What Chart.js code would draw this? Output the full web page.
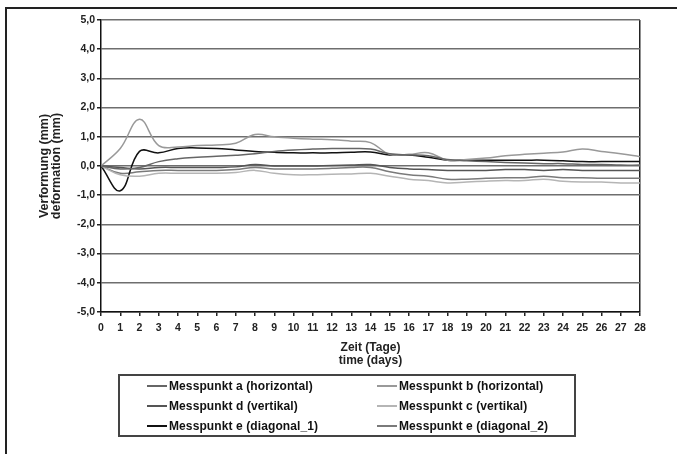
<!DOCTYPE html>
<html>
<head>
<meta charset="utf-8">
<script src="https://cdn.jsdelivr.net/npm/chart.js@4.4.1/dist/chart.umd.min.js"></script>
<style>
  body { margin: 0; background: #fff; font-family: "Liberation Sans", Arial, sans-serif; }
  #wrap { position: relative; width: 677px; height: 454px; overflow: hidden; }
  #frame { position: absolute; left: 5px; top: 7px; width: 700px; height: 470px; border-top: 2px solid #222; border-left: 2px solid #222; }
  #chart { position: absolute; left: 0; top: 0; }
  #legend { position: absolute; left: 118px; top: 374px; width: 454px; height: 59px; border: 2px solid #444;
    display: grid; grid-template-columns: 230px 224px; grid-auto-rows: 20px; padding-top: 0px; }
  .item { display: flex; align-items: center; font-weight: bold; font-size: 12px; letter-spacing: 0.1px; color: #111; white-space: nowrap; }
  .swatch { display: inline-block; width: 20px; height: 2px; margin-left: 27px; margin-right: 2px; }
</style>
</head>
<body>
<div id="wrap">
  <div id="frame"></div>
  <canvas id="chart" width="677" height="454"></canvas>
  <div id="legend"></div>
</div>
<script>
// days 0..28
const days = [0,1,2,3,4,5,6,7,8,9,10,11,12,13,14,15,16,17,18,19,20,21,22,23,24,25,26,27,28];

const messpunktA = [0,-0.1,-0.05,0.15,0.25,0.3,0.33,0.37,0.42,0.5,0.55,0.58,0.6,0.6,0.58,0.42,0.38,0.35,0.22,0.18,0.15,0.12,0.1,0.08,0.08,0.05,0.05,0.03,0.03];
const messpunktB = [0,0.6,1.6,0.7,0.65,0.7,0.72,0.78,1.08,1.0,0.95,0.92,0.9,0.85,0.8,0.4,0.4,0.45,0.2,0.22,0.27,0.35,0.4,0.44,0.48,0.58,0.5,0.42,0.32];
const messpunktD = [0,-0.05,-0.1,-0.05,-0.05,-0.05,-0.05,-0.03,0.05,0.0,0.0,0.0,0.02,0.03,0.05,-0.05,-0.1,-0.12,-0.15,-0.15,-0.15,-0.12,-0.12,-0.15,-0.12,-0.15,-0.15,-0.15,-0.15];
const messpunktC = [0,-0.3,-0.35,-0.25,-0.25,-0.25,-0.25,-0.22,-0.15,-0.25,-0.3,-0.3,-0.28,-0.27,-0.25,-0.35,-0.45,-0.5,-0.58,-0.55,-0.52,-0.5,-0.5,-0.45,-0.52,-0.55,-0.55,-0.58,-0.58];
const messpunktE1 = [0,-0.85,0.5,0.45,0.6,0.62,0.6,0.55,0.5,0.47,0.45,0.45,0.45,0.47,0.48,0.38,0.38,0.3,0.2,0.2,0.2,0.2,0.2,0.2,0.18,0.15,0.15,0.15,0.15];
const messpunktE2 = [0,-0.25,-0.2,-0.15,-0.15,-0.15,-0.15,-0.12,-0.05,-0.1,-0.1,-0.1,-0.08,-0.05,-0.05,-0.2,-0.3,-0.35,-0.45,-0.45,-0.42,-0.4,-0.4,-0.35,-0.4,-0.4,-0.42,-0.42,-0.42];

const yTicks = [-5,-4,-3,-2,-1,0,1,2,3,4,5];

function toPoints(values) {
  return values.map((v, i) => ({ x: days[i], y: v }));
}

function makeSet(label, values, color, width) {
  return {
    label: label,
    data: toPoints(values),
    borderColor: color,
    backgroundColor: color,
    borderWidth: width,
    pointRadius: 0,
    tension: 0.4,
    fill: false
  };
}

const ctx = document.getElementById('chart').getContext('2d');
const chart = new Chart(ctx, {
  type: 'line',
  data: {
    datasets: [
      makeSet('Messpunkt a (horizontal)', messpunktA, '#666', 1.5),
      makeSet('Messpunkt b (horizontal)', messpunktB, '#999', 1.5),
      makeSet('Messpunkt d (vertikal)', messpunktD, '#555', 1.5),
      makeSet('Messpunkt c (vertikal)', messpunktC, '#b5b5b5', 1.5),
      makeSet('Messpunkt e (diagonal_1)', messpunktE1, '#111', 1.5),
      makeSet('Messpunkt e (diagonal_2)', messpunktE2, '#7a7a7a', 1.5)
    ]
  },
  options: {
    responsive: false,
    animation: false,
    layout: { padding: { left: 38, top: 20, right: 37, bottom: 82 } },
    plugins: {
      legend: { display: false },
      tooltip: { enabled: false }
    },
    scales: {
      x: {
        type: 'linear',
        min: 0,
        max: 28,
        afterBuildTicks: scale => { scale.ticks = days.map(d => ({ value: d })); },
        afterFit: scale => { scale.height = 60; },
        border: { color: '#111', width: 1.5 },
        grid: {
          color: c => (c.tick && c.tick.value === 28) ? '#222' : 'rgba(0,0,0,0)',
          lineWidth: 1.5,
          tickColor: '#222',
          tickLength: 4,
          drawTicks: true
        },
        ticks: {
          autoSkip: false,
          maxRotation: 0,
          padding: 6,
          color: '#222',
          font: { family: 'Liberation Sans', size: 10.5, weight: 'bold' },
          callback: v => String(v)
        },
        title: {
          display: true,
          text: ['Zeit (Tage)', 'time (days)'],
          color: '#222',
          padding: { top: 1 },
          font: { family: 'Liberation Sans', size: 12, weight: 'bold', lineHeight: 1.15 }
        }
      },
      y: {
        min: -5,
        max: 5,
        afterBuildTicks: scale => { scale.ticks = yTicks.map(v => ({ value: v })); },
        afterFit: scale => { scale.width = 63; },
        border: { color: '#111', width: 1.5 },
        grid: {
          color: '#6e6e6e',
          lineWidth: 1.5,
          tickColor: '#222',
          tickLength: 4
        },
        ticks: {
          padding: 2,
          color: '#222',
          font: { family: 'Liberation Sans', size: 10.5, weight: 'bold' },
          callback: v => v.toFixed(1).replace('.', ',')
        },
        title: {
          display: true,
          text: ['Verformung (mm)', 'deformation (mm)'],
          color: '#222',
          padding: { top: 0, bottom: 4 },
          font: { family: 'Liberation Sans', size: 12.5, weight: 'bold', lineHeight: 1.0 }
        }
      }
    }
  }
});

// legend built from the chart's datasets, two columns like the original
const legendBox = document.getElementById('legend');
chart.data.datasets.forEach(ds => {
  const item = document.createElement('div');
  item.className = 'item';
  const sw = document.createElement('span');
  sw.className = 'swatch';
  sw.style.background = ds.borderColor;
  item.appendChild(sw);
  item.appendChild(document.createTextNode(ds.label));
  legendBox.appendChild(item);
});
</script>
</body>
</html>
